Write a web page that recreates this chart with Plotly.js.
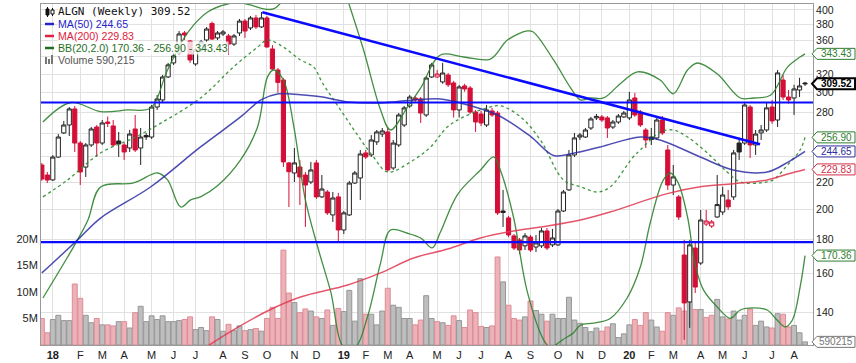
<!DOCTYPE html>
<html><head><meta charset="utf-8">
<script src="https://cdn.plot.ly/plotly-3.0.1.min.js"></script>
<style>html,body{margin:0;padding:0;background:#fff;} #chart{width:856px;height:363px;}</style>
</head><body><div id="chart"></div>
<script>
// ALGN weekly bars; index 0 = week of 2017-12-18, last = week of 2020-08-17
const open = [233.4,225.4,221.6,239.9,260.9,268.2,283.6,251.9,231.7,250.2,
266.3,251.9,271.0,267.3,253.7,250.2,247.6,264.5,247.6,258.6,
257.2,285.5,292.6,316.9,332.8,344.5,369.3,359.2,331.6,348.1,
360.4,381.7,363.0,368.0,365.5,355.3,369.3,384.9,375.8,389.1,
377.1,389.1,349.3,324.7,313.6,235.1,227.0,231.8,225.4,220.0,
235.1,208.9,212.5,196.2,208.9,186.2,196.2,219.2,223.1,243.4,
241.7,252.9,259.9,261.8,231.0,250.2,268.2,286.5,294.6,293.6,
277.7,316.9,316.9,311.5,319.1,310.4,282.6,307.2,305.0,280.6,
278.7,268.2,281.6,279.6,198.9,194.2,182.4,179.9,176.2,181.7,
175.5,176.2,185.6,176.8,176.8,198.9,214.0,241.7,257.2,257.2,
265.4,274.9,275.8,274.9,266.3,271.0,275.8,274.9,294.6,280.6,
263.6,257.2,256.4,272.9,245.9,217.7,208.9,170.7,145.0,174.9,
166.0,190.1,188.8,194.8,198.2,206.7,208.9,251.9,251.9,285.5,
250.2,260.9,263.6,285.5,272.9,313.6,295.6,294.6,302.9,310.3];
const high = [235.0,227.8,241.6,259.9,272.0,285.5,286.5,253.7,251.9,266.3,
268.2,272.9,276.2,272.9,261.8,251.9,263.6,277.7,265.4,260.9,
287.5,297.7,319.1,332.8,344.5,371.8,371.8,360.4,350.5,360.4,
377.0,384.3,371.8,373.1,368.0,368.0,387.7,387.7,391.8,393.1,
397.2,391.8,354.0,327.0,315.8,235.9,247.6,237.5,227.8,235.9,
237.5,225.4,214.0,212.5,211.8,198.9,220.8,228.6,245.9,245.9,
259.0,263.6,265.4,266.3,254.6,279.6,286.5,297.7,296.6,295.6,
318.0,332.8,324.7,332.8,321.4,312.6,308.3,309.5,307.2,282.6,
281.6,287.5,284.6,281.6,214.0,195.5,183.6,181.1,184.2,183.0,
183.0,187.5,187.5,186.9,200.3,214.0,245.9,260.9,260.9,265.4,
275.8,278.7,277.7,276.7,272.9,278.7,281.6,300.9,299.9,282.6,
265.4,265.4,275.8,276.7,250.2,233.4,210.3,179.9,179.9,178.0,
199.6,199.6,192.8,225.4,216.4,214.0,245.9,254.6,289.6,287.5,
263.6,268.2,290.5,292.6,324.7,319.1,302.9,308.5,316.0,311.5];
const low = [220.8,219.3,220.8,239.2,259.9,258.1,244.2,217.7,223.9,248.5,
240.0,250.2,266.3,248.5,240.0,237.5,244.2,244.2,233.4,254.6,
255.5,282.6,289.6,315.8,330.5,342.1,360.4,332.8,329.4,345.7,
357.9,360.4,360.4,365.5,342.1,353.0,365.5,363.0,373.1,374.4,
375.8,350.9,324.7,300.0,231.8,201.7,220.0,203.1,188.2,218.5,
207.4,208.1,196.2,191.5,178.0,183.6,195.5,218.5,206.7,238.3,
240.0,250.2,257.2,228.0,229.4,248.5,266.3,284.6,290.5,270.1,
275.8,315.8,315.8,309.5,306.1,275.3,275.3,301.1,278.7,261.8,
267.3,266.3,275.8,196.2,188.2,181.7,173.7,171.3,173.7,172.5,
172.5,174.9,173.7,175.5,176.2,198.2,213.3,240.0,254.6,256.4,
263.6,272.9,271.0,256.4,264.5,269.2,274.9,272.9,275.8,266.3,
247.6,250.2,254.6,259.0,214.0,210.3,192.8,127.1,132.5,149.6,
164.9,188.8,187.5,194.2,196.2,199.6,206.7,237.5,250.2,239.2,
241.7,254.6,261.8,269.2,266.3,292.6,288.9,277.7,295.6,307.2];
const close = [222.3,221.5,239.9,257.2,268.2,283.6,251.9,227.8,250.2,264.5,
251.9,270.1,269.7,250.2,251.1,244.2,259.9,245.9,257.2,257.3,
285.5,293.6,316.9,330.5,340.9,368.0,366.7,336.2,348.1,357.9,
374.4,361.6,369.3,370.6,355.3,365.5,384.9,371.8,389.1,377.1,
389.1,351.7,325.8,311.0,235.9,228.0,235.1,223.9,217.7,229.4,
208.9,214.7,197.6,208.1,186.2,197.6,219.2,227.0,242.5,240.0,
254.6,261.8,262.7,229.4,251.9,277.7,284.6,295.6,292.6,279.6,
315.8,330.5,320.2,321.3,308.5,282.6,306.1,304.0,280.6,271.0,
270.1,282.6,277.7,197.6,197.9,183.0,174.9,173.7,182.4,173.7,
178.0,185.6,174.9,181.1,198.9,212.5,241.7,256.4,259.0,263.6,
273.9,276.3,272.9,265.4,271.0,276.7,279.6,292.6,277.7,268.2,
254.6,255.0,272.9,260.9,217.7,223.9,194.8,144.5,176.8,152.7,
192.8,192.1,191.5,203.4,210.3,201.8,243.4,244.2,287.5,250.2,
259.9,263.6,284.6,272.0,321.4,295.6,292.6,304.0,307.2,309.52];
// volume in millions of shares
const volumeM = [5.0,2.3,4.8,5.6,4.6,4.6,11.5,8.8,5.6,4.2,
5.0,3.8,3.8,3.6,4.4,4.4,3.2,6.1,7.3,4.4,
5.5,4.8,5.5,4.4,4.4,4.6,4.8,5.3,2.9,3.3,
2.7,5.3,4.8,2.6,3.9,2.7,3.6,2.7,2.9,3.1,
2.6,5.0,7.1,5.0,17.9,9.8,8.0,6.1,6.8,6.4,
5.3,5.0,6.6,3.7,6.9,6.3,10.3,4.5,12.5,5.8,
5.8,3.8,6.4,10.7,7.5,7.1,5.0,5.0,3.8,4.7,
9.3,5.0,4.4,4.2,3.7,5.5,4.6,3.3,6.6,6.1,
3.5,3.3,3.6,16.6,11.9,7.5,5.0,4.7,5.3,8.3,
6.5,5.8,4.5,5.8,5.0,5.0,9.0,4.7,4.1,3.3,
2.5,3.2,2.6,3.4,4.0,1.4,2.1,3.8,4.8,3.7,
6.1,4.7,3.4,2.6,6.1,5.6,7.0,6.4,8.1,6.7,
6.7,5.2,5.6,8.6,5.3,4.9,6.4,4.7,5.6,6.8,
3.7,4.5,3.4,3.2,5.9,5.8,3.4,3.7,2.3,0.590215];

const monthTickIdx = [2,7,11,15,20,24,28,33,37,41,46,50,
  55,59,63,67,72,76,80,85,89,94,98,102,
  107,111,115,120,124,128,133,137];
const monthTickText = ['<b>18</b>','F','M','A','M','J','J','A','S','O','N','D',
  '<b>19</b>','F','M','A','M','J','J','A','S','O','N','D',
  '<b>20</b>','F','M','A','M','J','J','A'];

const ma50X = [0,1.6,6.5,10.7,19.8,28.9,36.2,39.9,42.9,47.1,50.8,55.7,61.7,67.7,72.6,76.2,83.0,89.0,93.2,96.8,101.7,109.0,112.6,119.9,125.9,132.1,136.0,139];
const ma50Y = [160.4,164.9,179.9,194.1,216.2,248.5,275.8,292.6,298.8,297.8,295.8,290.6,289.6,292.6,293.6,289.6,277.7,257.8,241.3,243.1,248.5,257.3,254.6,240.0,229.4,227.8,236.0,244.65];
const ma200X = [30.2,34.9,41.1,47.1,55.7,61.7,67.7,73.9,79.9,85.9,92.1,98.1,103.5,113.9,119.9,125.9,132.1,135.8,139];
const ma200Y = [124.4,131.6,140.5,147.5,153.8,160.4,168.9,174.3,181.1,185.6,188.8,192.8,198.2,211.3,216.4,218.7,221.6,226.2,229.83];
const bbMidX = [0.2,4.7,10.7,16.7,19.8,28.9,34.9,39.3,41.1,44.0,47.1,49.5,51.1,54.8,57.1,60.4,63.0,67.7,70.8,73.9,76.8,81.2,83.5,87.2,90.8,95.0,98.1,101.2,103.5,107.7,109.0,112.6,115.0,117.6,121.2,124.8,127.2,130.8,133.2,135.8,138.1,139];
const bbMidY = [208.9,221.6,243.4,256.3,264.5,294.6,328.1,351.6,360.4,351.6,336.2,328.1,310.6,279.6,261.8,240.0,227.8,237.5,248.5,266.5,275.8,284.8,286.8,275.8,254.6,221.6,216.4,212.5,216.2,240.0,245.9,261.5,263.6,257.2,243.4,227.8,220.0,219.3,221.6,233.4,245.9,256.9];
const bbUpX = [0.2,5.3,10.7,15.6,19.8,22.9,26.6,30.2,33.8,36.2,38.0,40.4,42.2,43.5,49,55.7,58.6,61.7,63.5,66.6,69.0,72.6,76.8,81.7,84.8,88.4,89.5,93.2,96.3,98.1,99.9,102.3,105.4,108.5,112.6,115.0,117.6,119.4,123.0,127.2,129.6,132.7,135.8,138.1,139];
const bbUpY = [271.0,290.0,281.0,282.6,284.5,324.7,370.0,397.2,408.4,409.8,407.0,401.4,401.4,409.8,null,414.1,348.1,282.6,263.6,285.5,305.2,342.1,339.7,337.3,360.4,371.9,370.6,336.2,305.2,292.6,294.6,294.6,309.9,322.6,313.6,299.0,324.7,332.7,320.4,294.6,294.6,297.4,327.9,339.7,343.43];
const bbLowX = [0.2,4.7,6.5,8.4,10.7,16.7,21.1,22.9,25.3,27.1,28.9,32.0,36.2,39.3,41.1,42.2,44.0,45.9,48.0,50.4,52.6,55.0,57.1,59.3,61.7,63.5,66.6,69.0,71.1,72.6,75.7,79.9,82.3,83.5,85.9,88.4,91.4,92.6,95.0,96.8,98.1,100.5,103.5,106.6,109.0,110.8,113.2,114.5,115.9,117.6,119.0,120.5,123.0,125.4,127.2,129.6,132.1,133.9,135.4,136.7,138.1,139];
const bbLowY = [147.0,169.5,179.9,192.8,216.2,219.3,227.0,221.6,201.7,206.7,208.9,217.1,237.5,266.5,317.0,324.7,313.6,266.5,206.7,173.7,150.4,123.9,123.9,137.6,166.1,186.2,184.1,181.1,175.0,184.9,210.6,229.4,240.0,229.4,194.8,150.4,127.1,123.9,127.4,130.2,133.8,134.7,136.9,147.0,163.7,190.8,221.6,227.0,219.3,194.8,164.9,151.2,142.5,137.0,141.0,142.0,141.0,136.2,133.0,136.2,152.7,170.36];

const supportLevels = [290.0, 178.5];
const trendX = [40.16, 130.8];
const trendY = [396.8, 250.9];

const priceTicks = [140,160,180,200,220,240,260,280,300,320,340,360,380,400];
const priceTickText = ['140','160','180','200','220','','','280','300','320','','360','380','400'];

const tags = [
  {v:343.43, text:'343.43', color:'#2f7d2f'},
  {v:309.52, text:'309.52', color:'#000000', bold:true},
  {v:256.90, text:'256.90', color:'#2f7d2f'},
  {v:244.65, text:'244.65', color:'#2c2c9c'},
  {v:229.83, text:'229.83', color:'#d03048'},
  {v:170.36, text:'170.36', color:'#2f7d2f'}
];
const volTag = {v:0.590215, text:'590215', color:'#777777'};

// ---------- build ----------
const XN = 140.45, XS = -0.15;
const Y_LO = Math.log10(124.85), Y_HI = Math.log10(408.4);
const VOL_MAX = 64.3;
const L = 41, R = 813, T = 4, B = 345;
const fx = p => (p - L) / (R - L);
const fy = p => (B - p) / (B - T);

const idx = close.map((_, i) => i);
const n = close.length;
const groups = {upBlack: [], upRed: [], downBlack: [], downRed: []};
const volColor = [], volLine = [];
for (let i = 0; i < n; i++) {
  const prev = i > 0 ? close[i - 1] : open[i];
  const up = close[i] >= open[i];
  const higher = close[i] >= prev;
  groups[up ? (higher ? 'upBlack' : 'upRed') : (higher ? 'downBlack' : 'downRed')].push(i);
  volColor.push(higher ? 'rgba(190,190,190,1)' : 'rgba(236,178,184,1)');
  volLine.push(higher ? 'rgba(150,150,150,1)' : 'rgba(220,140,150,1)');
}
function candle(ids, lineColor, fill) {
  const st = {line: {color: lineColor, width: 1}, fillcolor: fill};
  return {type: 'candlestick', x: ids, open: ids.map(i => open[i]), high: ids.map(i => high[i]),
    low: ids.map(i => low[i]), close: ids.map(i => close[i]), increasing: st, decreasing: st,
    whiskerwidth: 0, yaxis: 'y2', hoverinfo: 'skip', showlegend: false};
}
const RED = '#d40f37';
const data = [
  {type: 'bar', x: idx, y: volumeM, yaxis: 'y', marker: {color: volColor, line: {color: volLine, width: 1}}, hoverinfo: 'skip'},
  candle(groups.upBlack, '#222222', '#ffffff'),
  candle(groups.upRed, RED, '#ffffff'),
  candle(groups.downBlack, '#222222', '#222222'),
  candle(groups.downRed, RED, RED),
  {type: 'scatter', mode: 'lines', x: bbUpX, y: bbUpY, yaxis: 'y2', line: {color: 'rgba(45,130,45,0.9)', width: 1.3, shape: 'spline'}, connectgaps: false, hoverinfo: 'skip'},
  {type: 'scatter', mode: 'lines', x: bbLowX, y: bbLowY, yaxis: 'y2', line: {color: 'rgba(45,130,45,0.9)', width: 1.3, shape: 'spline'}, hoverinfo: 'skip'},
  {type: 'scatter', mode: 'lines', x: bbMidX, y: bbMidY, yaxis: 'y2', line: {color: 'rgba(45,140,45,0.9)', width: 1.3, dash: 'dot', shape: 'spline'}, hoverinfo: 'skip'},
  {type: 'scatter', mode: 'lines', x: ma50X, y: ma50Y, yaxis: 'y2', line: {color: 'rgba(45,45,165,0.85)', width: 1.5, shape: 'spline'}, hoverinfo: 'skip'},
  {type: 'scatter', mode: 'lines', x: ma200X, y: ma200Y, yaxis: 'y2', line: {color: 'rgba(225,55,80,0.85)', width: 1.5, shape: 'spline'}, hoverinfo: 'skip'},
  {type: 'scatter', mode: 'lines', x: trendX, y: trendY, yaxis: 'y2', line: {color: '#0a0aff', width: 2.5}, hoverinfo: 'skip'}
];
supportLevels.forEach(v => data.push({type: 'scatter', mode: 'lines', x: [XS, XN], y: [v, v], yaxis: 'y2',
  line: {color: '#0a0aff', width: 2.2}, hoverinfo: 'skip'}));

const tickFont = {family: 'Liberation Sans, Arial, sans-serif', size: 11, color: '#222'};
const shapes = [], annotations = [];

// value tags on the right
const tipX = fx(812), boxL = fx(817), boxR = fx(855);
function addTag(yFrac, text, color, bold) {
  shapes.push({type: 'path', xref: 'paper', yref: 'paper', ysizemode: 'pixel', yanchor: yFrac,
    path: `M ${tipX},0 L ${boxL},5.5 L ${boxR},5.5 L ${boxR},-5.5 L ${boxL},-5.5 Z`,
    fillcolor: '#ffffff', line: {color: color, width: bold ? 2 : 1}});
  annotations.push({xref: 'paper', yref: 'paper', x: (boxL + boxR) / 2, y: yFrac, xanchor: 'center', yanchor: 'middle',
    text: bold ? '<b>' + text + '</b>' : text, showarrow: false, borderpad: 0,
    font: {family: 'Liberation Sans, Arial, sans-serif', size: 10, color: color}});
}
tags.forEach(t => addTag((Math.log10(t.v) - Y_LO) / (Y_HI - Y_LO), t.text, t.color, t.bold));
addTag(volTag.v / VOL_MAX, volTag.text, volTag.color, false);

// legend block
const legFont = {family: 'Liberation Sans, Arial, sans-serif', size: 10.6};
const legend = [
  {y: 11.5, text: 'ALGN (Weekly) 309.52', color: '#111', mono: true},
  {y: 24, text: 'MA(50) 244.65', color: '#2424c8', dash: '#2424c8'},
  {y: 36, text: 'MA(200) 229.83', color: '#e0203c', dash: '#e0203c'},
  {y: 48, text: 'BB(20,2.0) 170.36 - 256.90 - 343.43', color: '#1f6f1f', dash: '#1f6f1f'},
  {y: 60, text: 'Volume 590,215', color: '#555'}
];
legend.forEach(l => {
  annotations.push({xref: 'paper', yref: 'paper', x: fx(57), y: fy(l.y), xanchor: 'left', yanchor: 'middle',
    text: l.text, showarrow: false, bgcolor: 'rgba(255,255,255,0.8)', borderpad: 0,
    font: l.mono ? {family: 'DejaVu Sans Mono, monospace', size: 11, color: l.color} : Object.assign({color: l.color}, legFont)});
  if (l.dash) shapes.push({type: 'line', xref: 'paper', yref: 'paper', x0: fx(45), x1: fx(54), y0: fy(l.y), y1: fy(l.y),
    line: {color: l.dash, width: 2.5}});
});
// candle icon
shapes.push({type: 'line', xref: 'paper', yref: 'paper', x0: fx(47.5), x1: fx(47.5), y0: fy(7), y1: fy(17), line: {color: '#111', width: 1}});
shapes.push({type: 'rect', xref: 'paper', yref: 'paper', x0: fx(46), x1: fx(49), y0: fy(9), y1: fy(15), fillcolor: '#111', line: {color: '#111', width: 1}});
shapes.push({type: 'line', xref: 'paper', yref: 'paper', x0: fx(52.5), x1: fx(52.5), y0: fy(8), y1: fy(16), line: {color: '#111', width: 1}});
shapes.push({type: 'rect', xref: 'paper', yref: 'paper', x0: fx(51), x1: fx(54), y0: fy(10), y1: fy(14), fillcolor: '#fff', line: {color: '#111', width: 1}});
// volume icon
[[45, 57], [48, 59], [51, 55]].forEach(b => shapes.push({type: 'rect', xref: 'paper', yref: 'paper',
  x0: fx(b[0]), x1: fx(b[0] + 2), y0: fy(64), y1: fy(b[1]), fillcolor: '#777', line: {width: 0}}));

const layout = {
  width: 856, height: 363, margin: {l: L, r: 856 - R, t: T, b: 363 - B},
  paper_bgcolor: '#ffffff', plot_bgcolor: '#ffffff', showlegend: false,
  boxgap: 0.2, boxgroupgap: 0.05, bargap: 0.1,
  xaxis: {range: [XS, XN], tickmode: 'array', tickvals: monthTickIdx, ticktext: monthTickText,
    showgrid: true, gridcolor: '#e1e1e1', gridwidth: 1, zeroline: false, showline: true, linecolor: '#9a9a9a',
    mirror: true, ticks: '', tickfont: tickFont, rangeslider: {visible: false}, fixedrange: true},
  yaxis: {range: [0, VOL_MAX], tickmode: 'array', tickvals: [5, 10, 15, 20], ticktext: ['5M', '10M', '15M', '20M'],
    showgrid: false, zeroline: false, showline: true, linecolor: '#9a9a9a', ticks: '', tickfont: tickFont, fixedrange: true},
  yaxis2: {overlaying: 'y', side: 'right', type: 'log', range: [Y_LO, Y_HI], tickmode: 'array',
    tickvals: priceTicks, ticktext: priceTickText, showgrid: true, gridcolor: '#e1e1e1', zeroline: false,
    showline: true, linecolor: '#9a9a9a', ticks: '', tickfont: {family: 'Liberation Sans, Arial, sans-serif', size: 10.5, color: '#222'}, fixedrange: true},
  shapes: shapes, annotations: annotations
};
Plotly.newPlot('chart', data, layout, {staticPlot: true, displayModeBar: false});
</script>
</body></html>
